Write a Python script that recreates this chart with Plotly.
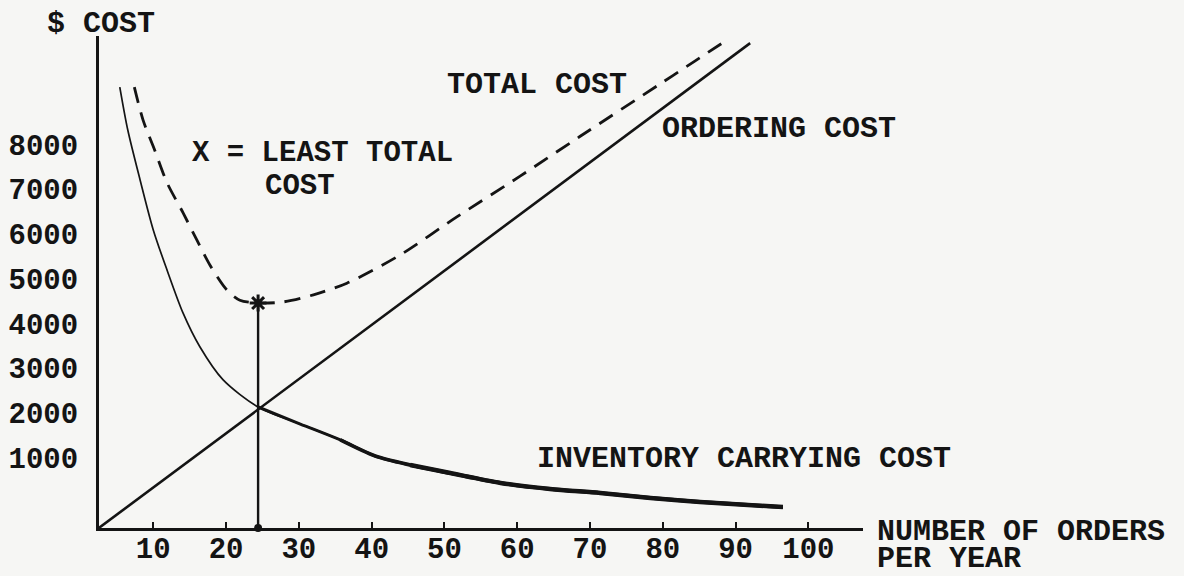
import plotly.graph_objects as go

# ---------------- data ----------------
x_ticks = [10, 20, 30, 40, 50, 60, 70, 80, 90, 100]
y_ticks = [1000, 2000, 3000, 4000, 5000, 6000, 7000, 8000]

ordering_x = [2.5, 92.0]
ordering_y = [-570, 10260]

inventory_x = [5.4, 6.5, 8.2, 10.0, 11.9, 14.1, 16.4, 19.6, 24.4,
               30.2, 35.7, 40.5, 45.3, 50.8, 57.7, 64.5, 71.4, 78.3, 85.1, 96.5]
inventory_y = [9280, 8320, 7200, 6090, 5190, 4230, 3480, 2740, 2135,
               1755, 1400, 1040, 840, 660, 440, 305, 215, 105, 15, -100]

total_x = [7.4, 8.6, 10.2, 11.9, 14.1, 16.0, 17.8, 20.1, 21.9, 24.4,
           27.8, 32.0, 36.6, 43.9, 51.7, 60.4, 68.6, 79.4, 84.4, 88.8]
total_y = [9280, 8540, 7870, 7140, 6470, 5860, 5300, 4750, 4520, 4457,
           4480, 4640, 4900, 5530, 6380, 7290, 8175, 9325, 9860, 10330]

least_x = 24.4
least_y = 4457

x_range = [2.545, 107.5]
y_range = [-567, 10420]

# ---------------- styling ----------------
INK = "#141414"
BG = "#f6f6f4"
FONT = "Liberation Mono"
FS = 29

L, R, T, B = 99, 321, 36, 48
W, H = 1184, 576
PW, PH = W - L - R, H - T - B


def px_x(px):
    return (px - L) / PW


def px_y(py):
    return (H - B - py) / PH


fig = go.Figure()

# ordering cost
fig.add_trace(go.Scatter(x=ordering_x, y=ordering_y, mode="lines",
                         line=dict(color=INK, width=2.6), hoverinfo="skip"))

# inventory carrying cost: thin pen stroke, heavier toward the right
fig.add_trace(go.Scatter(x=inventory_x, y=inventory_y, mode="lines",
                         line=dict(color=INK, width=1.7, shape="spline",
                                   smoothing=0.8),
                         hoverinfo="skip"))
fig.add_trace(go.Scatter(x=inventory_x[8:], y=inventory_y[8:], mode="lines",
                         line=dict(color=INK, width=3.0, shape="spline",
                                   smoothing=0.8),
                         hoverinfo="skip"))
fig.add_trace(go.Scatter(x=inventory_x[10:], y=inventory_y[10:], mode="lines",
                         line=dict(color=INK, width=3.7, shape="spline",
                                   smoothing=0.8),
                         hoverinfo="skip"))
fig.add_trace(go.Scatter(x=inventory_x[12:], y=inventory_y[12:], mode="lines",
                         line=dict(color=INK, width=4.5, shape="spline",
                                   smoothing=0.8),
                         hoverinfo="skip"))

# total cost (dashed)
fig.add_trace(go.Scatter(x=total_x, y=total_y, mode="lines",
                         line=dict(color=INK, width=2.8, dash="16px,10px",
                                   shape="spline", smoothing=0.8),
                         hoverinfo="skip"))

# vertical drop from least total cost
fig.add_trace(go.Scatter(x=[least_x, least_x], y=[least_y, y_range[0]],
                         mode="lines", line=dict(color=INK, width=2.4),
                         hoverinfo="skip"))
fig.add_trace(go.Scatter(x=[least_x], y=[least_y], mode="markers",
                         marker=dict(symbol="asterisk-open", size=14,
                                     color=INK,
                                     line=dict(color=INK, width=3)),
                         hoverinfo="skip"))
fig.add_trace(go.Scatter(x=[least_x], y=[y_range[0]], mode="markers",
                         marker=dict(symbol="circle", size=8, color=INK),
                         cliponaxis=False, hoverinfo="skip"))

fig.update_layout(
    width=W, height=H, autosize=False,
    margin=dict(l=L, r=R, t=T, b=B),
    paper_bgcolor=BG, plot_bgcolor=BG,
    showlegend=False,
    font=dict(family=FONT, size=FS, color=INK, weight="bold"),
)

fig.update_xaxes(range=x_range, tickvals=x_ticks, showgrid=False,
                 zeroline=False, showline=True, linecolor=INK, linewidth=3,
                 ticks="inside", ticklen=6, tickwidth=2, tickcolor=INK,
                 ticklabelstandoff=-8, automargin=False,
                 tickfont=dict(family=FONT, size=FS, color=INK, weight="bold"))
fig.update_yaxes(range=y_range, tickvals=y_ticks, showgrid=False,
                 zeroline=False, showline=True, linecolor=INK, linewidth=3,
                 ticks="", ticklabelstandoff=12, automargin=False,
                 tickfont=dict(family=FONT, size=FS, color=INK, weight="bold"))

labels = [
    ("$ COST", 45, 24, 30),
    ("X = LEAST TOTAL", 190, 153, 29),
    ("COST", 263, 186, 29),
    ("TOTAL COST", 445, 85, 30),
    ("ORDERING COST", 660, 129, 30),
    ("INVENTORY CARRYING COST", 535, 459, 30),
    ("NUMBER OF ORDERS", 875, 532, 30),
    ("PER YEAR", 875, 559, 30),
]
for text, px, py, fs in labels:
    fig.add_annotation(text=text, x=px_x(px), y=px_y(py), xref="paper",
                       yref="paper", xanchor="left", yanchor="middle",
                       showarrow=False,
                       font=dict(family=FONT, size=fs, color=INK,
                                 weight="bold"))

page_fix = ("document.body.style.margin='0';"
            "document.body.style.overflow='hidden';"
            "document.body.style.background='" + BG + "';")

fig.write_html("out.html", post_script=page_fix,
               config={"responsive": False, "displayModeBar": False})
